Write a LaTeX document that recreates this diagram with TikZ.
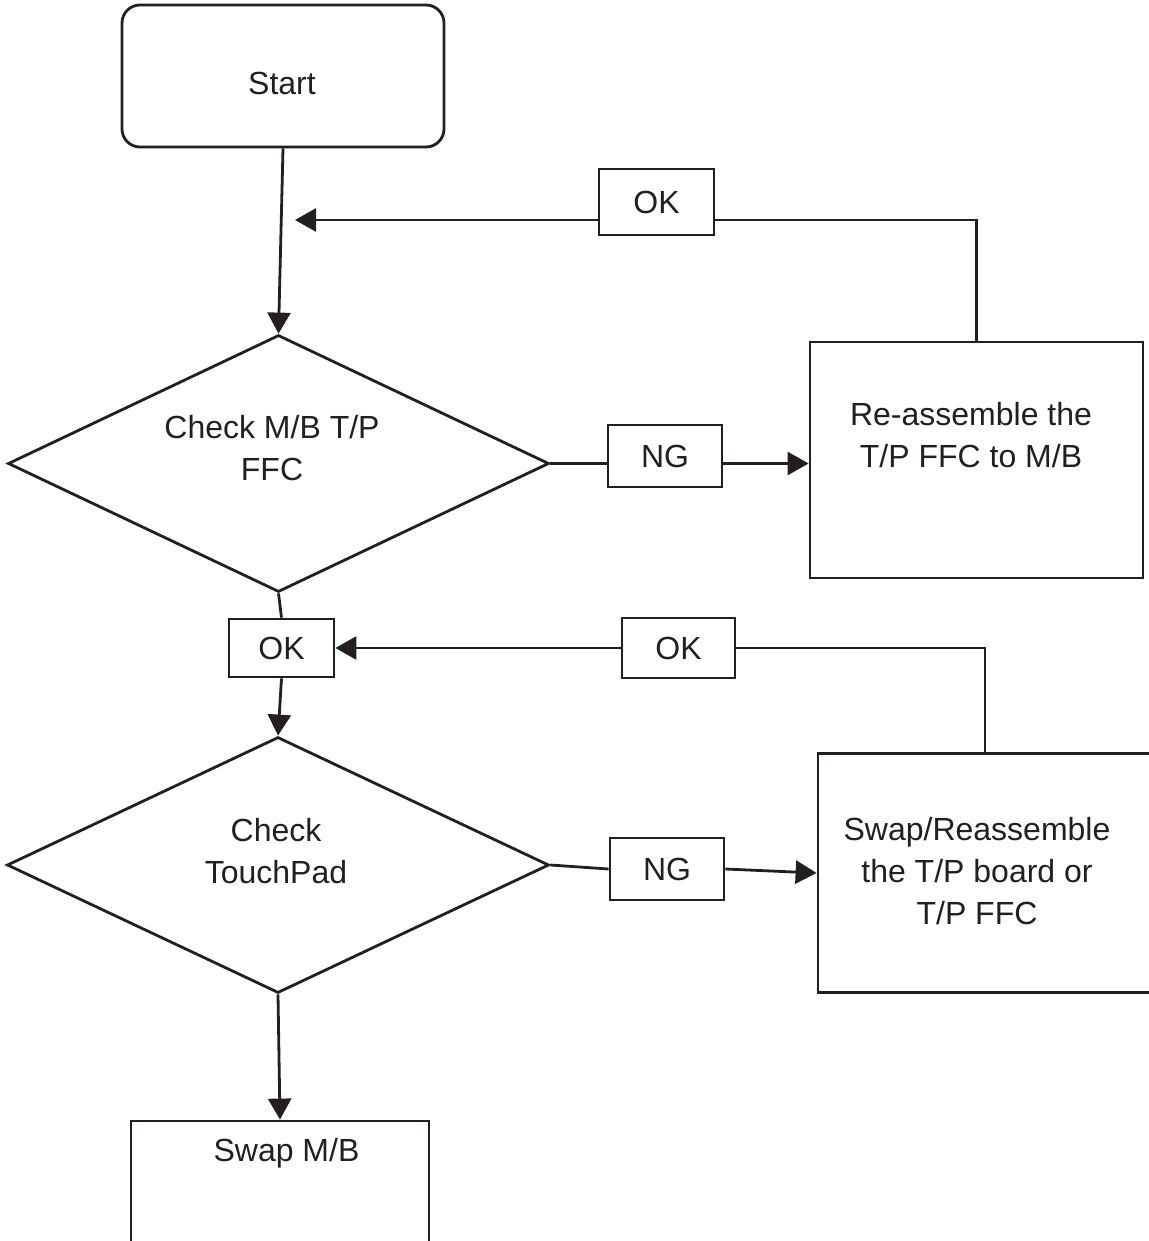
\documentclass[tikz,border=0pt]{standalone}
\usepackage{fontspec}
\setmainfont{Liberation Sans}
\usetikzlibrary{shapes.geometric,arrows.meta}
\definecolor{ink}{HTML}{231F20}
\begin{document}
\begin{tikzpicture}[x=1pt,y=-1pt,
  line width=2.8pt, draw=ink,
  box/.style={draw, rectangle, inner sep=0pt, font=\fontsize{32}{42}\selectfont, text=ink},
  dia/.style={draw, diamond, inner sep=0pt, minimum width=541pt, minimum height=257pt},
  txt/.style={font=\fontsize{32}{42}\selectfont, align=center, inner sep=0pt, text=ink},
  arr/.style={-{Triangle[length=21pt,width=23pt]}}]
\useasboundingbox (0,0) rectangle (1148,1241);
% boxes
\node[box, rounded corners=18pt, minimum width=322pt, minimum height=142pt] (start) at (283,76) {};
\node[txt] (starttxt) at (282,83) {Start};
\node[dia] (d1) at (278.5,463.5) {};
\node[txt] (d1txt) at (272,448) {Check M/B T/P\\FFC};
\node[box, minimum width=114pt, minimum height=62pt] (ng1) at (665,456) {NG};
\node[box, minimum width=333pt, minimum height=236pt] (reass) at (976.5,460) {};
\node[txt] (reasstxt) at (971,435.5) {Re-assemble the\\T/P FFC to M/B};
\node[box, minimum width=115pt, minimum height=66pt] (ok1) at (656.5,202) {OK};
\coordinate (back1) at (295,220);
\node[box, minimum width=105pt, minimum height=58pt] (ok2) at (281.5,648) {OK};
\node[box, minimum width=113pt, minimum height=60pt] (ok3) at (678.5,648) {OK};
\node[dia, minimum width=542pt, minimum height=256pt] (d2) at (278,865) {};
\node[txt] (d2txt) at (276,851) {Check\\TouchPad};
\node[box, minimum width=114pt, minimum height=62pt] (ng2) at (667,869) {NG};
\node[box, minimum width=334pt, minimum height=239pt] (swap) at (985,873) {};
\node[txt] (swaptxt) at (977,871) {Swap/Reassemble\\the T/P board or\\T/P FFC};
\node[box, minimum width=298pt, minimum height=150pt] (swapmb) at (280,1196) {};
\node[txt] (swapmbtxt) at (286.5,1153) {Swap M/B};
% connectors
\draw[arr] (start.south) -- (d1.north);
\draw (d1.east) -- (d1.east -| ng1.west);
\draw[arr] (ng1.east |- d1.east) -- (reass.west |- d1.east);
\draw (reass.north) |- ([yshift=-18pt]ok1.east);
\draw[arr] ([yshift=-18pt]ok1.west) -- (back1);
\draw (d1.south) -- (ok2.north);
\draw[arr] (ok2.south) -- (d2.north);
\draw (d2.east) -- (ng2.west);
\draw[arr] (ng2.east) -- (swap.west);
\draw (swap.north) |- (ok3.east);
\draw[arr] (ok3.west) -- (ok2.east);
\draw[arr] (d2.south) -- (swapmb.north);
\end{tikzpicture}
\end{document}
